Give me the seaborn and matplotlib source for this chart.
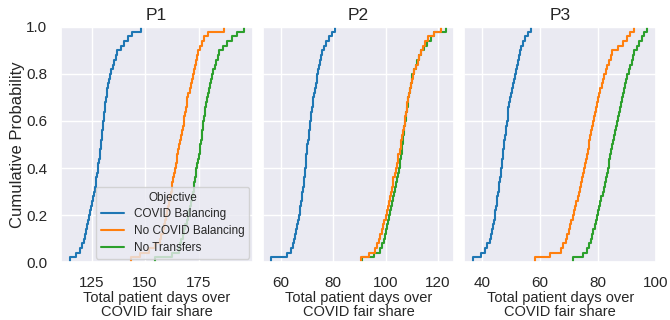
import pandas as pd
import matplotlib.pyplot as plt
import seaborn as sns

problems = ['P1', 'P2', 'P3']
objectives = ['COVID Balancing', 'No COVID Balancing', 'No Transfers']

p1_covid_balancing = [
    114.7, 117.5, 119.7, 120.5, 121.3, 121.8, 122.4, 122.9, 123.4, 123.9,
    124.4, 124.8, 125.3, 125.8, 126.2, 126.5, 126.8, 127.2, 127.5, 127.8,
    128.1, 128.4, 128.7, 129.0, 129.3, 129.5, 129.8, 130.0, 130.3, 130.5,
    130.7, 130.9, 131.2, 131.4, 131.6, 132.0, 132.4, 132.8, 133.2, 133.6,
    134.2, 134.9, 135.6, 136.3, 137.0, 138.5, 140.0, 141.8, 144.0, 148.0]
p1_no_covid_balancing = [
    143.2, 147.5, 152.0, 154.8, 157.0, 157.6, 158.2, 158.8, 159.4, 160.0,
    160.4, 160.8, 161.2, 161.6, 162.0, 162.4, 162.8, 163.1, 163.5, 163.9,
    164.3, 164.7, 165.1, 165.6, 166.0, 166.4, 166.8, 167.2, 167.6, 168.0,
    168.4, 168.7, 169.1, 169.4, 169.8, 170.3, 170.8, 171.4, 171.9, 172.4,
    172.9, 173.3, 173.8, 174.2, 174.7, 175.6, 176.5, 177.6, 179.3, 187.0]
p1_no_transfers = [
    154.7, 162.5, 165.8, 166.4, 167.0, 167.6, 168.2, 168.8, 169.4, 170.0,
    170.5, 171.0, 171.4, 171.9, 172.4, 172.7, 173.0, 173.3, 173.6, 173.9,
    174.3, 174.7, 175.1, 175.5, 175.9, 176.2, 176.5, 176.7, 177.0, 177.3,
    177.6, 177.9, 178.2, 178.5, 178.8, 179.3, 179.8, 180.2, 180.7, 181.2,
    181.9, 182.6, 183.3, 184.0, 184.7, 186.5, 188.5, 190.8, 193.0, 196.2]

p2_covid_balancing = [
    56.3, 62.4, 63.7, 64.4, 65.0, 65.4, 65.8, 66.1, 66.5, 66.9,
    67.2, 67.4, 67.7, 67.9, 68.2, 68.4, 68.6, 68.8, 69.0, 69.2,
    69.4, 69.6, 69.7, 69.9, 70.1, 70.3, 70.5, 70.7, 70.9, 71.1,
    71.4, 71.6, 71.9, 72.1, 72.4, 72.7, 73.0, 73.3, 73.6, 73.9,
    74.3, 74.7, 75.0, 75.4, 75.8, 76.5, 77.3, 78.2, 79.3, 80.5]
p2_no_covid_balancing = [
    90.4, 93.8, 95.9, 96.7, 97.5, 98.0, 98.5, 99.0, 99.5, 100.0,
    100.4, 100.8, 101.1, 101.5, 101.9, 102.3, 102.7, 103.0, 103.4, 103.8,
    104.2, 104.6, 104.9, 105.3, 105.7, 106.0, 106.3, 106.7, 107.0, 107.3,
    107.5, 107.8, 108.0, 108.3, 108.5, 108.9, 109.3, 109.6, 110.0, 110.4,
    111.0, 111.6, 112.2, 112.8, 113.4, 114.2, 115.0, 116.2, 118.5, 121.0]
p2_no_transfers = [
    91.0, 95.5, 97.9, 98.6, 99.4, 99.8, 100.2, 100.5, 100.9, 101.3,
    101.7, 102.1, 102.4, 102.8, 103.2, 103.6, 104.0, 104.3, 104.7, 105.1,
    105.4, 105.6, 105.9, 106.1, 106.4, 106.6, 106.8, 107.0, 107.2, 107.4,
    107.7, 107.9, 108.2, 108.4, 108.7, 109.0, 109.3, 109.6, 109.9, 110.2,
    110.8, 111.5, 112.1, 112.8, 113.4, 114.7, 116.0, 117.5, 118.5, 122.9]

p3_covid_balancing = [
    37.0, 39.8, 41.1, 41.9, 42.7, 43.1, 43.4, 43.8, 44.1, 44.5,
    44.7, 44.9, 45.2, 45.4, 45.6, 45.8, 46.0, 46.3, 46.5, 46.7,
    46.9, 47.0, 47.2, 47.3, 47.5, 47.7, 48.0, 48.2, 48.5, 48.7,
    48.9, 49.1, 49.2, 49.4, 49.6, 50.0, 50.4, 50.7, 51.1, 51.5,
    51.8, 52.1, 52.4, 52.7, 53.0, 53.6, 54.3, 55.0, 55.9, 56.8]
p3_no_covid_balancing = [
    58.2, 63.5, 67.2, 68.1, 69.0, 69.5, 69.9, 70.4, 70.8, 71.3,
    71.7, 72.1, 72.6, 73.0, 73.4, 73.8, 74.2, 74.5, 74.9, 75.3,
    75.6, 75.9, 76.2, 76.5, 76.8, 77.1, 77.4, 77.6, 77.9, 78.2,
    78.5, 78.9, 79.2, 79.6, 79.9, 80.4, 80.8, 81.3, 81.7, 82.2,
    82.8, 83.3, 83.9, 84.4, 85.0, 86.8, 88.7, 89.9, 91.2, 92.5]
p3_no_transfers = [
    71.3, 74.8, 76.1, 76.8, 77.6, 78.0, 78.4, 78.9, 79.3, 79.7,
    80.1, 80.5, 80.8, 81.2, 81.6, 82.0, 82.4, 82.7, 83.1, 83.5,
    83.8, 84.0, 84.3, 84.5, 84.8, 85.2, 85.6, 85.9, 86.3, 86.7,
    87.0, 87.3, 87.6, 87.9, 88.2, 88.6, 89.0, 89.4, 89.8, 90.2,
    90.7, 91.1, 91.6, 92.0, 92.5, 93.4, 94.3, 95.1, 96.0, 97.0]

series = {
    'P1': [p1_covid_balancing, p1_no_covid_balancing, p1_no_transfers],
    'P2': [p2_covid_balancing, p2_no_covid_balancing, p2_no_transfers],
    'P3': [p3_covid_balancing, p3_no_covid_balancing, p3_no_transfers],
}

rows = []
for prob in problems:
    for obj, vals in zip(objectives, series[prob]):
        for v in vals:
            rows.append({'problem': prob, 'Objective': obj, 'value': v})
df = pd.DataFrame(rows)

sns.set_theme(style='darkgrid', palette='tab10')
plt.rcParams['font.family'] = ['Liberation Sans', 'DejaVu Sans']

fig, axes = plt.subplots(1, 3, figsize=(6.7, 3.2), dpi=100, sharey=True)
fig.subplots_adjust(left=0.091, right=0.979, top=0.916, bottom=0.181, wspace=0.053)

for i, (ax, prob) in enumerate(zip(axes, problems)):
    sns.ecdfplot(data=df[df['problem'] == prob], x='value', hue='Objective',
                 hue_order=objectives, palette='tab10', ax=ax, legend=(i == 0))
    ax.set_title(prob, fontsize=12.5, pad=5)
    ax.set_xlabel('Total patient days over\nCOVID fair share', fontsize=10.5,
                  labelpad=1, linespacing=1.0)
    ax.tick_params(labelsize=11, pad=4)
    ax.set_ylim(0, 1)

axes[0].set_ylabel('Cumulative Probability', fontsize=12, labelpad=1)
axes[0].set_xticks([125, 150, 175])
axes[1].set_xticks([60, 80, 100, 120])
axes[2].set_xticks([40, 60, 80, 100])
sns.move_legend(axes[0], 'lower right', fontsize=8.5, title_fontsize=8.5,
                borderaxespad=0.3, labelspacing=0.4)

plt.savefig('out.png', dpi=100)
plt.close()
